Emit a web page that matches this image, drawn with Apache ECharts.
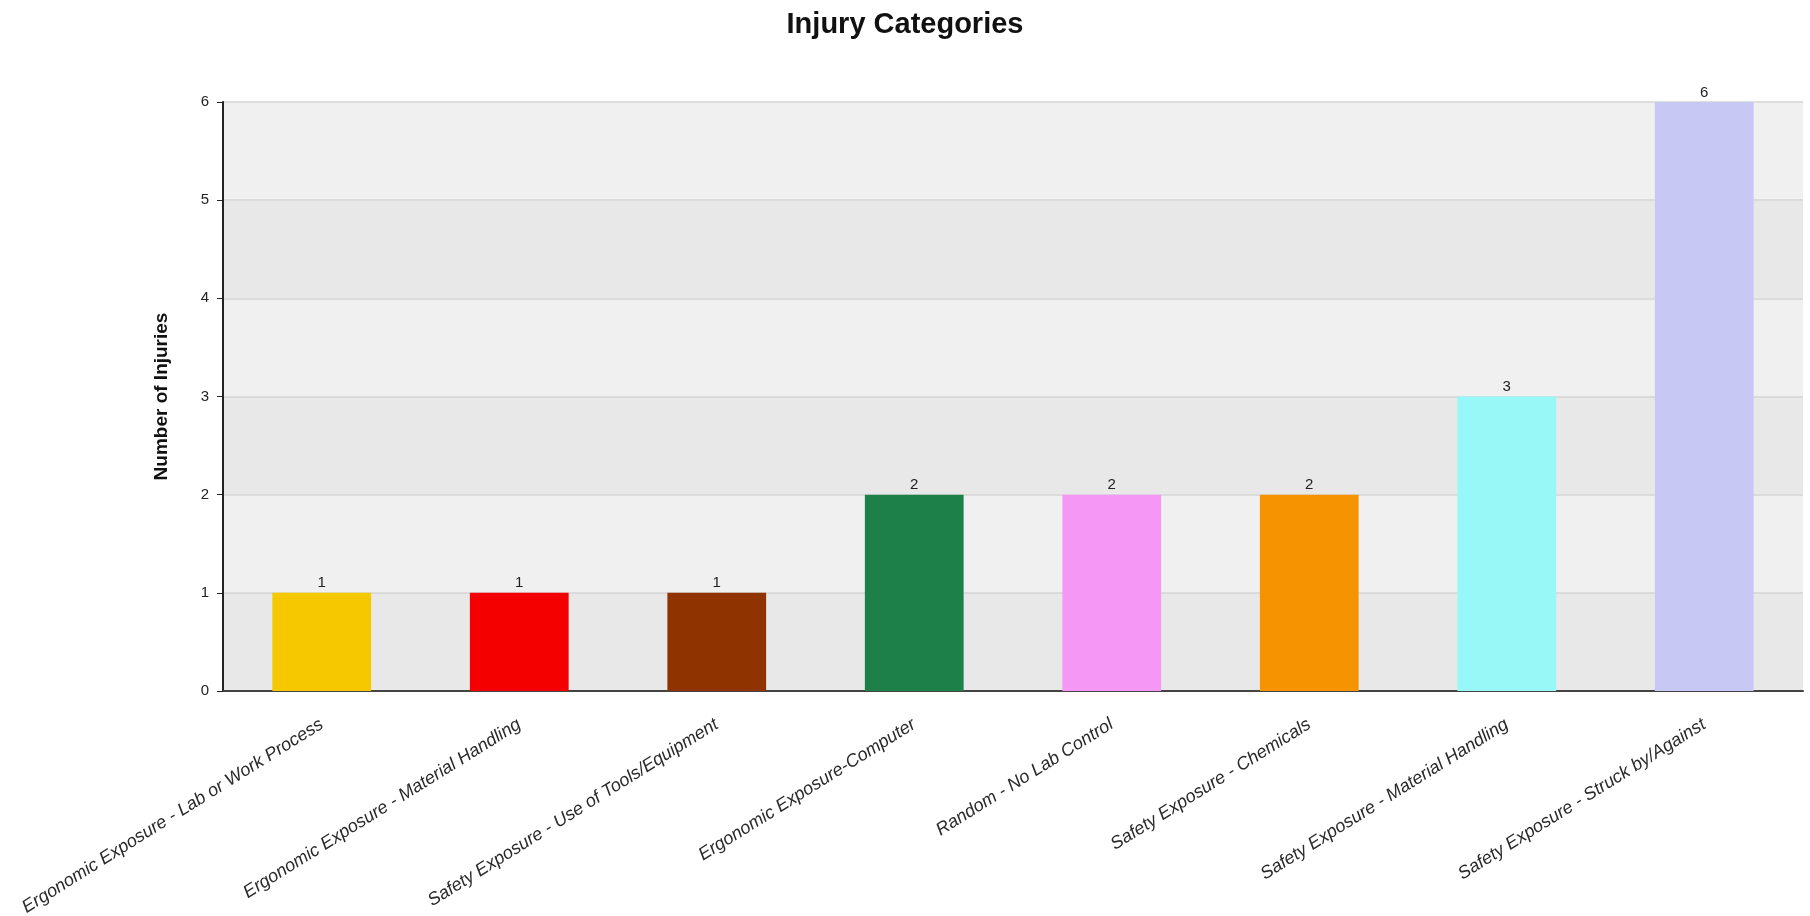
<!DOCTYPE html>
<html><head><meta charset="utf-8">
<script src="https://cdn.jsdelivr.net/npm/echarts@6/dist/echarts.min.js"></script>
<style>html,body{margin:0;padding:0;background:#fff}#c{width:1810px;height:916px}</style>
</head><body><div id="c"></div>
<script>
const categories = [
  'Ergonomic Exposure - Lab or Work Process',
  'Ergonomic Exposure - Material Handling',
  'Safety Exposure - Use of Tools/Equipment',
  'Ergonomic Exposure-Computer',
  'Random - No Lab Control',
  'Safety Exposure - Chemicals',
  'Safety Exposure - Material Handling',
  'Safety Exposure - Struck by/Against'
];
const values = [1, 1, 1, 2, 2, 2, 3, 6];
const barColors = ['#f5c800', '#f40000', '#8f3300', '#1c8048', '#f598f5', '#f59400', '#98f8f8', '#c8c8f5'];
const yTicks = [0, 1, 2, 3, 4, 5, 6];

const chart = echarts.init(document.getElementById('c'));
chart.setOption({
  animation: false,
  backgroundColor: '#ffffff',
  title: {
    text: 'Injury Categories', left: 'center', top: 5,
    textStyle: { fontFamily: 'Liberation Sans', fontSize: 29, fontWeight: 'bold', color: '#111' }
  },
  grid: { left: 223, right: 7, top: 102, bottom: 225, outerBoundsMode: 'none', containLabel: false },
  xAxis: {
    type: 'category', data: categories,
    axisLine: { lineStyle: { color: '#444', width: 2 } },
    axisTick: { alignWithLabel: true, length: 7, lineStyle: { color: '#444' } },
    axisLabel: {
      rotate: 32, interval: 0, margin: 32, fontStyle: 'italic',
      fontFamily: 'Liberation Sans', fontSize: 18, color: '#2a2a2a'
    },
    splitLine: { show: false }
  },
  yAxis: {
    type: 'value', min: yTicks[0], max: yTicks[yTicks.length - 1], interval: 1,
    name: 'Number of Injuries', nameLocation: 'middle', nameGap: 52, nameRotate: 90,
    nameTextStyle: { fontFamily: 'Liberation Sans', fontSize: 19, fontWeight: 'bold', color: '#111' },
    axisLine: { show: true, lineStyle: { color: '#222', width: 2 } },
    axisTick: { show: true, length: 6, lineStyle: { color: '#222' } },
    axisLabel: { fontFamily: 'Liberation Sans', fontSize: 15, color: '#222', margin: 14 },
    splitLine: { lineStyle: { color: '#d4d4d4', width: 1.5 } },
    splitArea: { show: true, areaStyle: { color: ['#e8e8e8', '#f0f0f0'] } }
  },
  series: [{
    type: 'bar', barWidth: '50%',
    data: values.map((v, i) => ({ value: v, itemStyle: { color: barColors[i] } })),
    label: {
      show: true, position: 'top', distance: 2,
      fontFamily: 'Liberation Sans', fontSize: 15, color: '#222'
    }
  }]
});
</script></body></html>
